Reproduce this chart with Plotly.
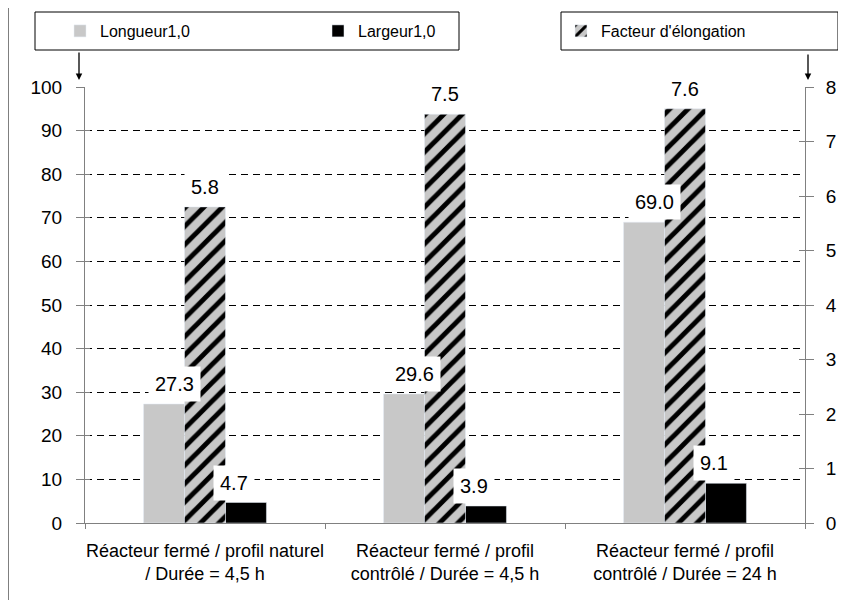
import plotly.graph_objects as go

# ---------------- data ----------------
categories = [
    "Réacteur fermé / profil naturel<br>/ Durée = 4,5 h",
    "Réacteur fermé / profil<br>contrôlé / Durée = 4,5 h",
    "Réacteur fermé / profil<br>contrôlé / Durée = 24 h",
]
longueur = [27.3, 29.6, 69.0]
largeur = [4.7, 3.9, 9.1]
facteur = [5.8, 7.5, 7.6]
left_ticks = [0, 10, 20, 30, 40, 50, 60, 70, 80, 90, 100]
right_ticks = [0, 1, 2, 3, 4, 5, 6, 7, 8]

# ---------------- layout helpers (page pixels -> paper coords) ----------------
OFF = 8                      # page body margin
W, H = 836, 592
PL, PR, PT, PB = 85, 805, 87, 523      # plot area on the page
ML, MT = PL - OFF, PT - OFF
MR, MB = W - (PR - OFF), H - (PB - OFF)
PW, PH = PR - PL, PB - PT


def px_x(px):
    return (px - PL) / PW


def px_y(py):
    return (PB - py) / PH


FONT = "Liberation Sans, Arial, sans-serif"
GREY = "#c8c8c8"
AXIS = "#808080"
BAR_PX = 41

fig = go.Figure()
fig.add_trace(go.Bar(
    x=categories, y=longueur, name="Longueur1,0", marker_color=GREY,
    offsetgroup="a", yaxis="y", legend="legend",
))
fig.add_trace(go.Bar(
    x=categories, y=facteur, name="Facteur d'élongation",
    marker=dict(color=GREY, pattern=dict(shape="/", fgcolor="#000000", bgcolor=GREY,
                                         fgopacity=1, size=13, solidity=0.38)),
    offsetgroup="b", yaxis="y2", legend="legend3",
))
fig.add_trace(go.Bar(
    x=categories, y=largeur, name="Largeur1,0", marker_color="black",
    offsetgroup="c", yaxis="y", legend="legend2",
))
# dummy traces for the inner half of the crossing tick marks
fig.add_trace(go.Scatter(x=categories, y=[None] * 3, yaxis="y3", showlegend=False,
                         hoverinfo="skip"))
fig.add_trace(go.Scatter(x=categories, y=[None] * 3, yaxis="y4", showlegend=False,
                         hoverinfo="skip"))

LBL_FONT = dict(size=20, family=FONT, color="black")
annotations = []
for c, v in zip(categories, longueur):
    annotations.append(dict(x=c, y=v, yref="y", text=f"{v:.1f}", showarrow=False,
                            xshift=-BAR_PX + 10, yshift=20, bgcolor="white", borderpad=6,
                            font=LBL_FONT))
for c, v in zip(categories, facteur):
    annotations.append(dict(x=c, y=v, yref="y2", text=f"{v:.1f}", showarrow=False,
                            xshift=0, yshift=20, bgcolor="white", borderpad=6,
                            font=LBL_FONT))
for c, v in zip(categories, largeur):
    annotations.append(dict(x=c, y=v, yref="y", text=f"{v:.1f}", showarrow=False,
                            xshift=BAR_PX - 12, yshift=20, bgcolor="white", borderpad=6,
                            font=LBL_FONT))
# arrows from legend boxes to axes
annotations.append(dict(xref="paper", yref="paper", x=px_x(79), y=px_y(80), ax=0, ay=-29,
                        text="", showarrow=True, arrowhead=2, arrowsize=1, arrowwidth=1.3,
                        arrowcolor="black"))
annotations.append(dict(xref="paper", yref="paper", x=px_x(808), y=px_y(80), ax=0, ay=-27,
                        text="", showarrow=True, arrowhead=2, arrowsize=1, arrowwidth=1.3,
                        arrowcolor="black"))

shapes = [
    dict(type="rect", xref="paper", yref="paper", x0=px_x(8), x1=px_x(900), y0=px_y(660),
         y1=px_y(5), line=dict(color="black", width=1), fillcolor="rgba(0,0,0,0)", layer="below"),
    dict(type="rect", xref="paper", yref="paper", x0=px_x(35), x1=px_x(459), y0=px_y(50),
         y1=px_y(12), line=dict(color="black", width=1), fillcolor="rgba(0,0,0,0)"),
    dict(type="rect", xref="paper", yref="paper", x0=px_x(561), x1=px_x(838), y0=px_y(50),
         y1=px_y(12), line=dict(color="black", width=1), fillcolor="rgba(0,0,0,0)"),
]

legend_common = dict(yanchor="middle", xanchor="left", bgcolor="rgba(0,0,0,0)", borderwidth=0,
                     font=dict(size=16, family=FONT, color="black"), orientation="h")

fig.update_layout(
    width=W, height=H,
    margin=dict(l=ML, r=MR, t=MT, b=MB, autoexpand=False),
    paper_bgcolor="white", plot_bgcolor="white",
    barmode="group", bargap=0.488, bargroupgap=0,
    font=dict(family=FONT, color="black"),
    xaxis=dict(type="category", showline=True, linecolor=AXIS, linewidth=1,
               ticks="outside", tickson="boundaries", ticklen=5, tickcolor=AXIS,
               tickangle=0,
               tickfont=dict(size=18, family=FONT, color="black"), ticklabelstandoff=11,
               showgrid=False, zeroline=False),
    yaxis=dict(range=[0, 100], tickvals=left_ticks, showline=True, linecolor=AXIS,
               ticks="outside", ticklen=8, tickcolor=AXIS,
               tickfont=dict(size=19, family=FONT, color="black"), ticklabelstandoff=10,
               showgrid=True, gridcolor="black", gridwidth=1, griddash="7px,5px",
               zeroline=False),
    yaxis2=dict(range=[0, 8], tickvals=right_ticks, overlaying="y", side="right",
                showline=True, linecolor=AXIS, ticks="outside", ticklen=8, tickcolor=AXIS,
                tickfont=dict(size=19, family=FONT, color="black"), ticklabelstandoff=8,
                showgrid=False, zeroline=False),
    yaxis3=dict(range=[0, 100], tickvals=left_ticks, overlaying="y", side="left",
                showline=False, ticks="inside", ticklen=5, tickcolor=AXIS,
                showticklabels=False, showgrid=False, zeroline=False),
    yaxis4=dict(range=[0, 8], tickvals=right_ticks, overlaying="y", side="right",
                showline=False, ticks="inside", ticklen=6, tickcolor=AXIS,
                showticklabels=False, showgrid=False, zeroline=False),
    legend=dict(x=px_x(60), y=px_y(31), **legend_common),
    legend2=dict(x=px_x(318), y=px_y(31), **legend_common),
    legend3=dict(x=px_x(561), y=px_y(31), **legend_common),
    annotations=annotations,
    shapes=shapes,
    showlegend=True,
)

fig.write_html("out.html")
